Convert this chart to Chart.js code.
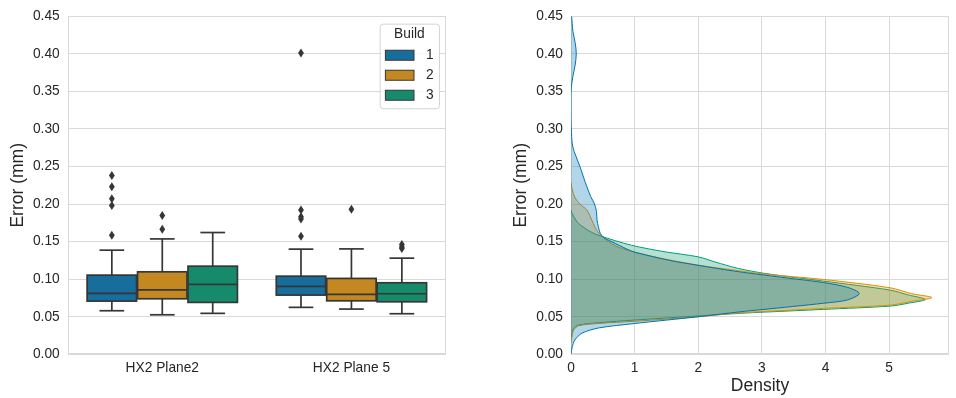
<!DOCTYPE html>
<html><head><meta charset="utf-8">
<script src="https://cdn.jsdelivr.net/npm/chart.js@4.4.0/dist/chart.umd.min.js"></script>
<style>
html,body{margin:0;padding:0;background:#fff;overflow:hidden;}
#wrap{position:relative;width:956px;height:398px;background:#fff;}
.c{position:absolute;top:0;width:478px;height:398px;}
</style></head><body>
<div id="wrap">
<div class="c" style="left:0"><canvas id="box" width="478" height="398"></canvas></div>
<div class="c" style="left:478px"><canvas id="kde" width="478" height="398"></canvas></div>
</div>
<script>
// ---------- data ----------
const categories = ['HX2 Plane2', 'HX2 Plane 5'];
const builds = ['1', '2', '3'];
const errorMin = 0, errorMax = 0.45, errorStep = 0.05;
const densityMax = 5.94, densityStep = 1;

// box statistics, [build][category]
const whiskerLow  = [[0.0580, 0.0625], [0.0526, 0.0602], [0.0545, 0.0540]];
const q1          = [[0.0708, 0.0788], [0.0739, 0.0712], [0.0691, 0.0699]];
const median      = [[0.0810, 0.0903], [0.0858, 0.0797], [0.0930, 0.0806]];
const q3          = [[0.1054, 0.1040], [0.1098, 0.1010], [0.1173, 0.0952]];
const whiskerHigh = [[0.1386, 0.1400], [0.1536, 0.1403], [0.1621, 0.1280]];
const outliers = [
  [[0.238, 0.223, 0.207, 0.198, 0.1585], [0.401, 0.192, 0.183, 0.180, 0.157]],
  [[0.1847, 0.1665], [0.193]],
  [[], [0.146, 0.143, 0.141]]
];

// KDE curves (error value, density)
const kdeError1   = [0.000, 0.010, 0.019, 0.028, 0.035, 0.041, 0.050, 0.0566, 0.0595, 0.068, 0.0725, 0.081, 0.089, 0.0955, 0.100, 0.1067, 0.111, 0.1187, 0.125, 0.136, 0.140, 0.150, 0.155, 0.161, 0.170, 0.178, 0.190, 0.200, 0.210, 0.230, 0.250, 0.270, 0.280, 0.300, 0.320, 0.340, 0.355, 0.370, 0.385, 0.400, 0.415, 0.430, 0.450];
const kdeDensity1 = [0.00, 0.02, 0.06, 0.17, 0.43, 1.00, 2.00, 2.66, 3.00, 3.97, 4.35, 4.53, 4.35, 3.97, 3.55, 2.92, 2.55, 1.98, 1.55, 1.00, 0.88, 0.64, 0.52, 0.46, 0.43, 0.41, 0.40, 0.37, 0.31, 0.22, 0.14, 0.05, 0.02, 0.005, 0.00, 0.00, 0.005, 0.03, 0.065, 0.083, 0.065, 0.03, 0.01];
const kdeError2   = [0.015, 0.021, 0.032, 0.038, 0.041, 0.044, 0.050, 0.0553, 0.057, 0.0611, 0.0655, 0.0704, 0.0755, 0.0808, 0.0885, 0.0996, 0.1067, 0.111, 0.1187, 0.130, 0.1417, 0.150, 0.163, 0.178, 0.192, 0.200, 0.209, 0.219, 0.229];
const kdeDensity2 = [0.00, 0.01, 0.04, 0.12, 0.43, 1.00, 2.00, 2.66, 3.05, 3.97, 5.02, 5.35, 5.67, 5.35, 5.02, 3.97, 3.05, 2.66, 2.00, 1.30, 0.77, 0.59, 0.42, 0.33, 0.25, 0.14, 0.06, 0.02, 0.00];
const kdeError3   = [0.018, 0.026, 0.0345, 0.039, 0.042, 0.0456, 0.051, 0.0545, 0.0562, 0.0598, 0.0642, 0.068, 0.073, 0.079, 0.0854, 0.0974, 0.1076, 0.1143, 0.123, 0.1297, 0.1364, 0.1452, 0.1585, 0.165, 0.174, 0.181, 0.187, 0.192];
const kdeDensity3 = [0.00, 0.01, 0.04, 0.12, 0.43, 1.00, 2.00, 2.66, 3.05, 3.97, 5.02, 5.30, 5.57, 5.30, 5.02, 3.97, 3.05, 2.63, 2.26, 2.00, 1.48, 0.95, 0.43, 0.27, 0.12, 0.06, 0.02, 0.00];

// ---------- style ----------
const fontFamily = '"Liberation Sans", Arial, "DejaVu Sans", sans-serif';
const tickFont = {family: fontFamily, size: 13.75};
const titleFont = {family: fontFamily, size: 17.5};
const textColor = '#262626';
const gridColor = '#d9d9d9';
const edgeColor = '#363636';
const boxColors = ['#176d9c', '#c38820', '#168b6b'];
const kdeLine = ['#0173b2', '#de8f05', '#029e73'];
const kdeFill = ['rgba(1,115,178,0.3)', 'rgba(222,143,5,0.3)', 'rgba(2,158,115,0.3)'];

const plotTop = 15.3, plotBottom = 354.3;

const frame = {
  id: 'frame',
  beforeDatasetsDraw(chart) {
    const {ctx, chartArea: a} = chart;
    ctx.save();
    ctx.strokeStyle = gridColor;
    ctx.lineWidth = 1;
    const l = Math.round(a.left) + 0.5, t = Math.round(a.top) + 0.5;
    const r = Math.round(a.right) - 0.5, b = Math.round(a.bottom) - 0.5;
    ctx.strokeRect(l, t, r - l, b - t);
    ctx.restore();
  }
};

const boxParts = {
  id: 'boxParts',
  afterDatasetsDraw(chart) {
    const {ctx} = chart;
    const y = chart.scales.y;
    ctx.save();
    ctx.strokeStyle = edgeColor;
    ctx.fillStyle = edgeColor;
    ctx.lineWidth = 1.7;
    const line = (x1, y1, x2, y2) => { ctx.beginPath(); ctx.moveTo(x1, y1); ctx.lineTo(x2, y2); ctx.stroke(); };
    chart.data.datasets.forEach((ds, i) => {
      const meta = chart.getDatasetMeta(i);
      meta.data.forEach((bar, j) => {
        const x = bar.x, w = bar.width;
        const yl = y.getPixelForValue(whiskerLow[i][j]);
        const y1 = y.getPixelForValue(q1[i][j]);
        const y3 = y.getPixelForValue(q3[i][j]);
        const yh = y.getPixelForValue(whiskerHigh[i][j]);
        const ym = y.getPixelForValue(median[i][j]);
        line(x, yl, x, y1);
        line(x, y3, x, yh);
        line(x - w / 4, yl, x + w / 4, yl);
        line(x - w / 4, yh, x + w / 4, yh);
        ctx.strokeRect(x - w / 2, y3, w, y1 - y3);
        line(x - w / 2, ym, x + w / 2, ym);
        outliers[i][j].forEach(v => {
          const py = y.getPixelForValue(v);
          ctx.beginPath();
          ctx.moveTo(x, py - 4.5); ctx.lineTo(x + 2.9, py);
          ctx.lineTo(x, py + 4.5); ctx.lineTo(x - 2.9, py);
          ctx.closePath(); ctx.fill();
        });
      });
    });
    ctx.restore();
  }
};

const boxLegend = {
  id: 'boxLegend',
  afterDraw(chart) {
    const {ctx, chartArea: a} = chart;
    const w = 59.3, h = 84.6;
    const x0 = a.right - 7 - w, y0 = a.top + 7.4;
    ctx.save();
    ctx.beginPath();
    ctx.roundRect(x0 + 0.5, y0 + 0.5, w, h, 3);
    ctx.fillStyle = 'rgba(255,255,255,0.8)';
    ctx.fill();
    ctx.strokeStyle = '#d4d4d4';
    ctx.lineWidth = 1;
    ctx.stroke();
    ctx.fillStyle = textColor;
    ctx.font = `13.75px ${fontFamily}`;
    ctx.textAlign = 'center';
    ctx.textBaseline = 'middle';
    ctx.fillText('Build', x0 + w / 2, y0 + 10.5);
    chart.data.datasets.forEach((ds, i) => {
      const cy = y0 + 31.6 + i * 20;
      ctx.fillStyle = ds.backgroundColor;
      ctx.fillRect(x0 + 5.7, cy - 5, 28.6, 10);
      ctx.strokeStyle = edgeColor;
      ctx.lineWidth = 1;
      ctx.strokeRect(x0 + 5.7, cy - 5, 28.6, 10);
      ctx.fillStyle = textColor;
      ctx.fillText(ds.label, x0 + 50, cy);
    });
    ctx.restore();
  }
};

const yAxis = (titlePad, width) => ({
  type: 'linear',
  min: errorMin, max: errorMax,
  border: {display: false},
  grid: {color: gridColor, lineWidth: 1, drawTicks: false},
  ticks: {stepSize: errorStep, color: textColor, font: tickFont, padding: 8,
          callback: v => Number(v).toFixed(2)},
  title: {display: true, text: 'Error (mm)', color: textColor, font: titleFont,
          padding: {top: titlePad, bottom: 0}},
  afterFit: s => { s.width = width; }
});

new Chart(document.getElementById('box'), {
  type: 'bar',
  data: {
    labels: categories,
    datasets: builds.map((b, i) => ({
      label: b,
      data: categories.map((c, j) => [q1[i][j], q3[i][j]]),
      backgroundColor: boxColors[i],
      borderWidth: 0,
      categoryPercentage: 0.8,
      barPercentage: 0.98
    }))
  },
  options: {
    responsive: false, animation: false, devicePixelRatio: 1,
    layout: {padding: {top: plotTop, right: 32, bottom: 0, left: 0}},
    plugins: {legend: {display: false}, tooltip: {enabled: false}},
    scales: {
      x: {
        type: 'category',
        border: {display: false},
        grid: {display: false, drawTicks: false},
        ticks: {color: textColor, font: tickFont, padding: 6},
        afterFit: s => { s.height = 398 - plotBottom; }
      },
      y: yAxis(7.5, 67.7)
    }
  },
  plugins: [frame, boxParts, boxLegend]
});

const kdeErrors = [kdeError1, kdeError2, kdeError3];
const kdeDensities = [kdeDensity1, kdeDensity2, kdeDensity3];

new Chart(document.getElementById('kde'), {
  type: 'line',
  data: {
    datasets: builds.map((b, i) => ({
      label: b,
      data: kdeErrors[i].map((e, k) => ({x: kdeDensities[i][k], y: e})),
      borderColor: kdeLine[i],
      backgroundColor: kdeFill[i],
      borderWidth: 1,
      pointRadius: 0,
      tension: 0.3,
      fill: 'origin'
    }))
  },
  options: {
    indexAxis: 'y',
    responsive: false, animation: false, devicePixelRatio: 1,
    layout: {padding: {top: plotTop, right: 7, bottom: 0, left: 0}},
    plugins: {legend: {display: false}, tooltip: {enabled: false}},
    scales: {
      x: {
        type: 'linear', position: 'bottom',
        min: 0, max: densityMax,
        border: {display: false},
        grid: {color: gridColor, lineWidth: 1, drawTicks: false},
        ticks: {stepSize: densityStep, includeBounds: false, color: textColor, font: tickFont, padding: 6},
        title: {display: true, text: 'Density', color: textColor, font: titleFont, padding: {top: 0, bottom: 1}},
        afterFit: s => { s.height = 398 - plotBottom; }
      },
      y: yAxis(32.5, 93)
    }
  },
  plugins: [frame]
});
</script>
</body></html>
